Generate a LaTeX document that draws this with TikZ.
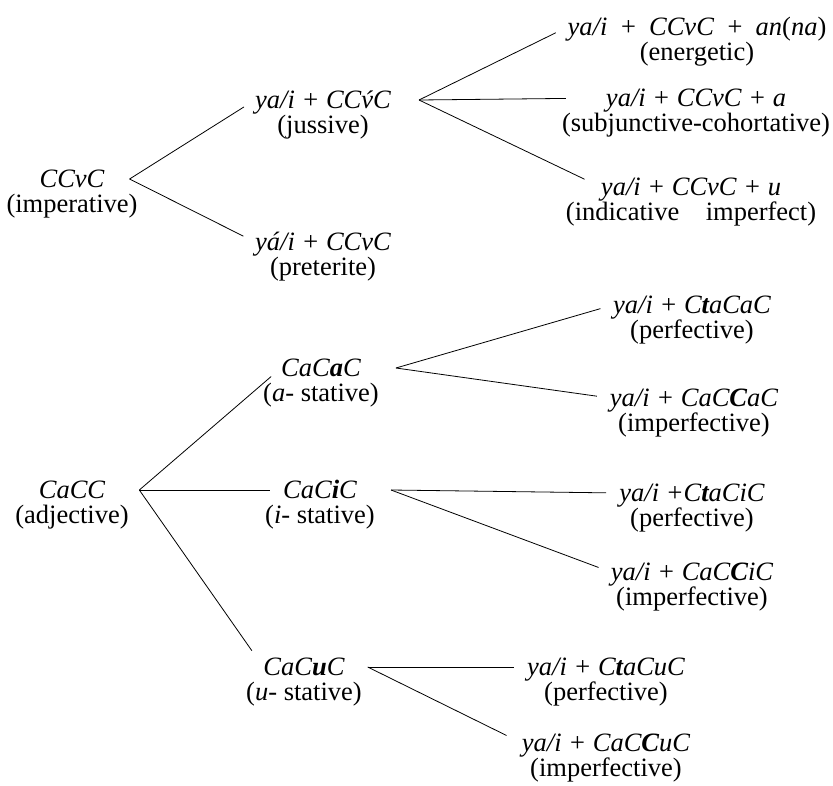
\documentclass[tikz,border=0pt]{standalone}
\usepackage{fontspec}
\setmainfont{Liberation Serif}
\usetikzlibrary{positioning}

\tikzset{
  form/.style={font=\fontsize{26.5}{29}\selectfont\itshape},
  gloss/.style={font=\fontsize{26.5}{29}\selectfont}
}

\begin{document}
\begin{tikzpicture}[x=1pt,y=-1pt,node distance=4pt,
    every node/.style={inner sep=0pt,text height=19pt,text depth=2pt},
    every edge/.style={draw,line width=.8pt,shorten >=13pt}]
  \useasboundingbox (0,0) rectangle (833,785);

  % strong verb
  \node[form] (ccvc) at (72,179) {CCvC};
  \node[gloss,below=of ccvc] (ccvc-g) {(imperative)};
  \node[form] (jus) at (323,100) {ya/i + CC\'{v}C};
  \node[gloss,below=of jus] (jus-g) {(jussive)};
  \node[form] (pret) at (323,242) {y\'a/i + CCvC};
  \node[gloss,below=of pret] (pret-g) {(preterite)};
  \node[form] (ener) at (697,27) {ya/i\hspace{.45em}+\hspace{.45em}CCvC\hspace{.45em}+\hspace{.45em}an\textup{(}na\textup{)}};
  \node[gloss,below=of ener] (ener-g) {(energetic)};
  \node[form] (subj) at (696,98) {ya/i + CCvC + a};
  \node[gloss,below=of subj] (subj-g) {(subjunctive-cohortative)};
  \node[form] (indic) at (691,187) {ya/i + CCvC + u};
  \node[gloss,below=of indic] (indic-g) {(indicative\quad imperfect)};

  % adjective and statives
  \node[form] (cacc) at (72,490) {CaCC};
  \node[gloss,below=of cacc] (cacc-g) {(adjective)};
  \node[form] (astat) at (321,368) {CaC\textbf{a}C};
  \node[gloss,below=of astat] (astat-g) {(\textit{a}- stative)};
  \node[form] (istat) at (320,490) {CaC\textbf{i}C};
  \node[gloss,below=of istat] (istat-g) {(\textit{i}- stative)};
  \node[form] (ustat) at (304,667) {CaC\textbf{u}C};
  \node[gloss,below=of ustat] (ustat-g) {(\textit{u}- stative)};
  \node[form] (aperf) at (692,305) {ya/i + C\textbf{t}aCaC};
  \node[gloss,below=of aperf] (aperf-g) {(perfective)};
  \node[form] (aimpf) at (694,398) {ya/i + CaC\textbf{C}aC};
  \node[gloss,below=of aimpf] (aimpf-g) {(imperfective)};
  \node[form] (iperf) at (692,493) {ya/i +C\textbf{t}aCiC};
  \node[gloss,below=of iperf] (iperf-g) {(perfective)};
  \node[form] (iimpf) at (692,572) {ya/i + CaC\textbf{C}iC};
  \node[gloss,below=of iimpf] (iimpf-g) {(imperfective)};
  \node[form] (uperf) at (606,667) {ya/i + C\textbf{t}aCuC};
  \node[gloss,below=of uperf] (uperf-g) {(perfective)};
  \node[form] (uimpf) at (606,743) {ya/i + CaC\textbf{C}uC};
  \node[gloss,below=of uimpf] (uimpf-g) {(imperfective)};

  % branch points
  \coordinate[right=25pt of ccvc] (ccvc-fork);
  \coordinate[right=28pt of jus] (jus-fork);
  \coordinate[right=34pt of cacc] (cacc-fork);
  \coordinate[right=35pt of astat] (astat-fork);
  \coordinate[right=34pt of istat] (istat-fork);
  \coordinate[right=23pt of ustat] (ustat-fork);

  \path (ccvc-fork) edge (jus.west)
                    edge (pret.west);
  \path (jus-fork) edge (ener.west)
                   edge[shorten >=40pt] (subj.west)
                   edge[shorten >=18pt] (indic.west);
  \path (cacc-fork) edge (astat.west)
                    edge (istat.west)
                    edge[shorten >=20pt] (ustat.west);
  \path (astat-fork) edge (aperf.west)
                     edge (aimpf.west);
  \path (istat-fork) edge (iperf.west)
                     edge (iimpf.west);
  \path (ustat-fork) edge (uperf.west)
                     edge[shorten >=17pt] (uimpf.west);
\end{tikzpicture}
\end{document}
